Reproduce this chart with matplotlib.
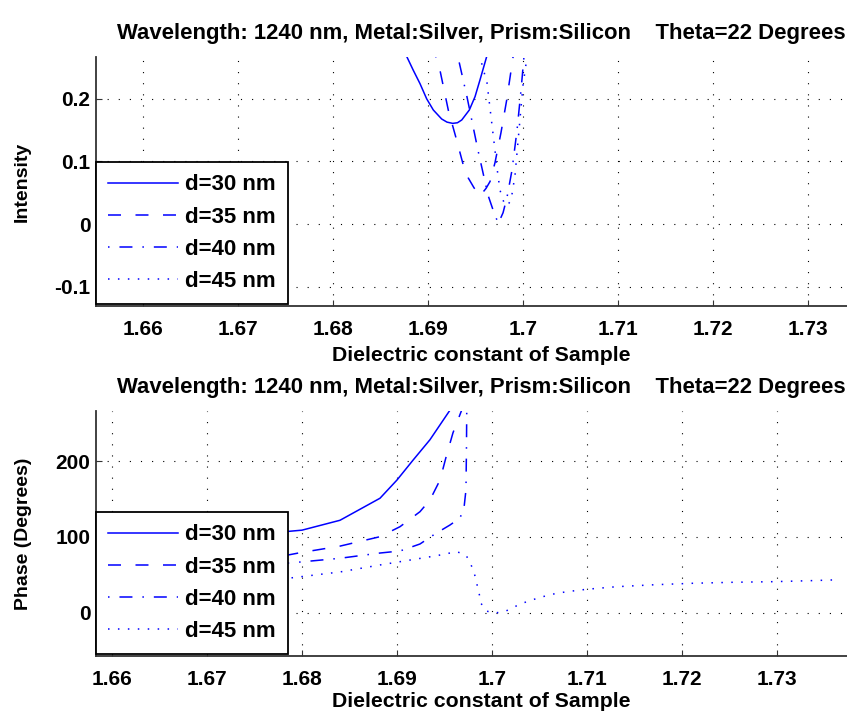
import numpy as np
import matplotlib
matplotlib.use("Agg")
import matplotlib.pyplot as plt

plt.rcParams['font.family'] = ['Liberation Sans', 'DejaVu Sans']
plt.rcParams['font.weight'] = 'bold'

labels = ['d=30 nm', 'd=35 nm', 'd=40 nm', 'd=45 nm']
styles = ['-', (0, (8.5, 9.5)), (0, (1, 6.5, 8.5, 6.5)), (0, (1, 5.5))]
title_text = 'Wavelength: 1240 nm, Metal:Silver, Prism:Silicon    Theta=22 Degrees'

# ---- Intensity (top) ----
int30_x = [1.6860, 1.68776, 1.68845, 1.68916, 1.68986, 1.69056, 1.69144, 1.69200, 1.69260, 1.69310, 1.69355, 1.69435, 1.69495, 1.69547, 1.69618, 1.6972]
int30_y = [0.34, 0.268, 0.246, 0.2245, 0.2003, 0.1824, 0.168, 0.163, 0.161, 0.162, 0.1664, 0.1824, 0.2037, 0.2304, 0.268, 0.33]
int35_x = [1.6900, 1.69084, 1.69126, 1.69214, 1.69302, 1.69372, 1.69424, 1.69484, 1.69547, 1.69611, 1.69653, 1.69705, 1.69768, 1.69828, 1.69895, 1.6995]
int35_y = [0.33, 0.267, 0.246, 0.182, 0.134, 0.094, 0.0736, 0.058, 0.045, 0.057, 0.068, 0.098, 0.146, 0.198, 0.267, 0.32]
int40_x = [1.6922, 1.69316, 1.69411, 1.69526, 1.69632, 1.69695, 1.69740, 1.69790, 1.69832, 1.69884, 1.69937, 1.69979, 1.70010, 1.7005]
int40_y = [0.33, 0.267, 0.203, 0.118, 0.046, 0.018, 0.001, 0.018, 0.043, 0.086, 0.15, 0.214, 0.267, 0.32]
int45_x = [1.6950, 1.69547, 1.69621, 1.69705, 1.69726, 1.69758, 1.69800, 1.69832, 1.69874, 1.69916, 1.69958, 1.70000, 1.70042, 1.7008]
int45_y = [0.32, 0.267, 0.226, 0.118, 0.09, 0.054, 0.034, 0.029, 0.038, 0.078, 0.15, 0.222, 0.267, 0.32]

# ---- Phase (bottom) ----
ph30_x = [1.6580, 1.66842, 1.6800, 1.6840, 1.68821, 1.6900, 1.69168, 1.69347, 1.69558, 1.6965]
ph30_y = [88, 96, 109, 122, 151, 175, 201, 228, 267, 290]
ph35_x = [1.6580, 1.67853, 1.67979, 1.6840, 1.68821, 1.69032, 1.69242, 1.69347, 1.69453, 1.69516, 1.69589, 1.69681, 1.6972]
ph35_y = [66, 76.3, 79.3, 88, 100.4, 113.6, 133.3, 148.7, 175, 205, 237, 267, 285]
ph40_x = [1.6580, 1.67874, 1.6840, 1.68821, 1.69032, 1.69242, 1.6940, 1.69558, 1.69663, 1.69705, 1.69726, 1.69731, 1.69735]
ph40_y = [57, 65.8, 72, 78.9, 81.6, 90.8, 104, 115.8, 125, 138, 162, 214, 280]
ph45_x = [1.6580, 1.67874, 1.6840, 1.68821, 1.69032, 1.69418, 1.69628, 1.69726, 1.69776, 1.69814, 1.69839, 1.69863, 1.69884,
          1.69937, 1.70032, 1.70137, 1.7026, 1.70365, 1.70463, 1.70568, 1.70663, 1.70786, 1.70997, 1.71313, 1.71716,
          1.72116, 1.72537, 1.72958, 1.73347, 1.73620]
ph45_y = [38, 46, 54, 63.2, 67.5, 75.4, 80.7, 76.3, 64.5, 52.2, 39.1, 26.7, 12.8,
          2.6, 0, 2, 9.5, 14.9, 18.8, 22.6, 25.4, 28, 31.2, 34.6, 37.2,
          39.1, 40.4, 41.2, 42.5, 43.6]

xticks = [1.66, 1.67, 1.68, 1.69, 1.70, 1.71, 1.72, 1.73]
xticklabels = ['1.66', '1.67', '1.68', '1.69', '1.7', '1.71', '1.72', '1.73']
int_yticks = [-0.1, 0, 0.1, 0.2]
int_yticklabels = ['-0.1', '0', '0.1', '0.2']
ph_yticks = [0, 100, 200]
ph_yticklabels = ['0', '100', '200']

W, H = 847, 713
fig = plt.figure(figsize=(W / 100, H / 100), dpi=100)

def px_axes(x0, y0, x1, y1):
    return fig.add_axes([x0 / W, 1 - y1 / H, (x1 - x0) / W, (y1 - y0) / H])

ax1 = px_axes(96, 57, 866, 306)
ax2 = px_axes(96, 411, 866, 656)

blue = (0, 0, 1)
FS = 15

def style(ax, yticks, yticklabels, xlim, ylim, ylabel, xlabelpad):
    ax.set_xlim(*xlim)
    ax.set_ylim(*ylim)
    for s in ['top', 'right']:
        ax.spines[s].set_visible(False)
    for s in ['left', 'bottom']:
        ax.spines[s].set_color('#333333')
        ax.spines[s].set_linewidth(1.3)
    ax.set_xticks(xticks)
    ax.set_xticklabels(xticklabels)
    ax.set_yticks(yticks)
    ax.set_yticklabels(yticklabels)
    ax.tick_params(direction='in', length=4, width=0.8, labelsize=FS, color='#333333')
    ax.tick_params(axis='x', pad=10)
    ax.tick_params(axis='y', pad=4)
    ax.grid(True, color='black', linestyle=(0, (1, 9)), linewidth=0.8)
    ax.set_xlabel('Dielectric constant of Sample', fontsize=15.3, fontweight='bold', labelpad=xlabelpad)
    ax.set_ylabel(ylabel, fontsize=14, fontweight='bold', labelpad=17)
    ax.set_title(title_text, fontsize=15.9, fontweight='bold', pad=13)

lw = 1.1
for xs, ys, ls, lab in zip([int30_x, int35_x, int40_x, int45_x], [int30_y, int35_y, int40_y, int45_y], styles, labels):
    ax1.plot(xs, ys, color=blue, linestyle=ls, linewidth=lw, label=lab)
for xs, ys, ls, lab in zip([ph30_x, ph35_x, ph40_x, ph45_x], [ph30_y, ph35_y, ph40_y, ph45_y], styles, labels):
    ax2.plot(xs, ys, color=blue, linestyle=ls, linewidth=lw, label=lab)

style(ax1, int_yticks, int_yticklabels, (1.655053, 1.736105), (-0.1312, 0.2672), 'Intensity', 5)
style(ax2, ph_yticks, ph_yticklabels, (1.658316, 1.739368), (-56.6, 265.8), 'Phase (Degrees)', 2)

for ax in (ax1, ax2):
    leg = ax.legend(loc='lower left', bbox_to_anchor=(0, 0.008), frameon=True,
                    prop={'size': 16, 'weight': 'bold'},
                    fancybox=False, borderaxespad=0, handlelength=3.15, handletextpad=0.32,
                    labelspacing=0.5, borderpad=0.55)
    leg.get_frame().set_edgecolor('black')
    leg.get_frame().set_linewidth(1.3)
    leg.get_frame().set_alpha(1)

fig.savefig('out.png', dpi=100)
